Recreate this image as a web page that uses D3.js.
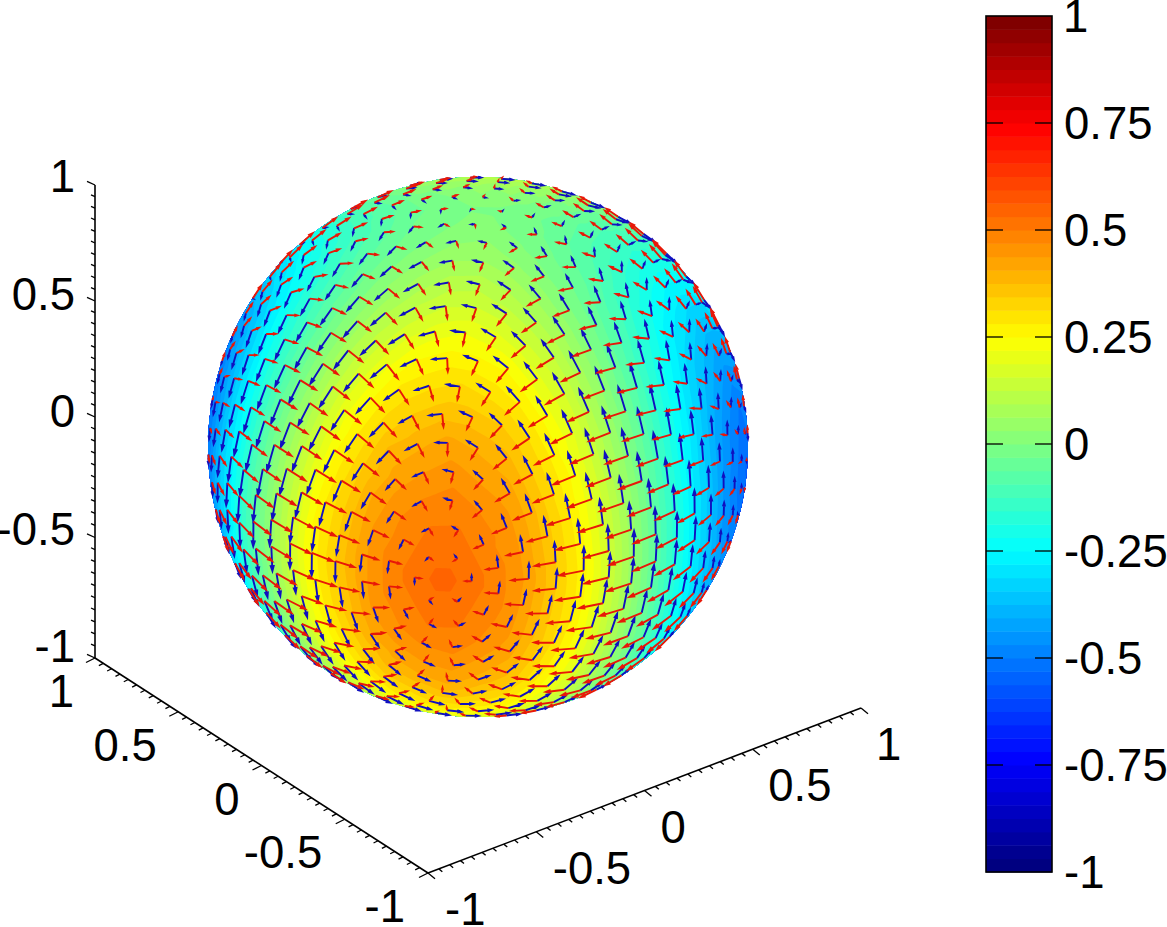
<!DOCTYPE html>
<html><head><meta charset="utf-8">
<style>html,body{margin:0;background:#fff}svg{display:block}text{font-family:"Liberation Sans",Arial,sans-serif;font-size:45.5px;fill:#000}</style>
<script src="https://cdn.jsdelivr.net/npm/d3@7"></script></head><body>
<svg id="c" width="1167" height="927"></svg>
<script>
// ---- values ----
const axisTicks = [-1, -0.5, 0, 0.5, 1];
const axisTickLabels = ["-1", "-0.5", "0", "0.5", "1"];
const colorbarTicks = [1, 0.75, 0.5, 0.25, 0, -0.25, -0.5, -0.75, -1];
const colorbarTickLabels = ["1", "0.75", "0.5", "0.25", "0", "-0.25", "-0.5", "-0.75", "-1"];
const jetStops = [-1, -0.75, -0.25, 0.25, 0.75, 1];
const jetColors = ["#000080", "#0000ff", "#00ffff", "#ffff00", "#ff0000", "#800000"];
const colorLevels = 64;
// directions, on the unit sphere as seen on screen (right, up, out), of the surface's marked points
const peakPoint = [-0.13, -0.493, 0.86];    // the orange maximum
const saddlePoint = [0.007, 0.826, 0.564];  // where arrows vanish near the top
// surface value on a sphere table: rows = angle from saddlePoint (every 15 deg, 0..180),
// columns = angle round it, starting from peakPoint (every 15 deg, 0..345)
const fieldRowStep = 15, fieldColStep = 15;
const r00 = [0,0,0,0,0,0,0,0,0,0,0,0,0,0,0,0,0,0,0,0,0,0,0,0];
const r15 = [.060,.045,.022,0,-.018,-.032,-.037,-.032,-.018,0,.018,.032,.037,.032,.018,0,-.018,-.032,-.037,-.032,-.018,0,.022,.045];
const r30 = [.175,.145,.078,0,-.068,-.118,-.137,-.118,-.068,0,.068,.118,.137,.118,.068,0,-.068,-.118,-.137,-.118,-.068,0,.078,.145];
const r45 = [.305,.262,.148,0,-.137,-.236,-.273,-.236,-.137,0,.137,.236,.273,.236,.137,0,-.137,-.236,-.273,-.236,-.137,0,.148,.262];
const r60 = [.425,.368,.210,0,-.205,-.355,-.410,-.355,-.205,0,.205,.355,.410,.355,.205,0,-.205,-.355,-.410,-.355,-.205,0,.210,.368];
const r75 = [.509,.441,.255,0,-.255,-.441,-.509,-.441,-.255,0,.255,.441,.509,.441,.255,0,-.255,-.441,-.509,-.441,-.255,0,.255,.441];
const r90 = [.546,.473,.273,0,-.273,-.473,-.546,-.473,-.273,0,.273,.473,.546,.473,.273,0,-.273,-.473,-.546,-.473,-.273,0,.273,.473];
const fieldRows = [r00,r15,r30,r45,r60,r75,r90,r75,r60,r45,r30,r15,r00];
const ringStepDeg = 6.1;    // arrows sit on rings about the peak, this far apart
const arrowSpacingDeg = 6.6; // and this far apart along each ring
const arrowScale = 0.102;   // arrow length per unit of surface slope

// ---- layout ----
const svg = d3.select("#c");
const X = d3.scaleLinear().domain([-1, 1]).range([208, 748]);
const Y = d3.scaleLinear().domain([-1, 1]).range([717, 177]);
const bar = {x0: 986, x1: 1052, y: d3.scaleLinear().domain([-1, 1]).range([872, 16])};
const jet = d3.scaleLinear().domain(jetStops).range(jetColors).clamp(true);
const quant = d3.scaleQuantize().domain([-1, 1]).range(d3.range(colorLevels).map(i => jet(-1 + i * 2 / (colorLevels - 1))));

// ---- vectors ----
const dot = (a, b) => a[0]*b[0] + a[1]*b[1] + a[2]*b[2];
const add = (a, b, s = 1) => [a[0]+s*b[0], a[1]+s*b[1], a[2]+s*b[2]];
const mul = (a, s) => [a[0]*s, a[1]*s, a[2]*s];
const norm = a => mul(a, 1 / Math.hypot(...a));
const cross = (a, b) => [a[1]*b[2]-a[2]*b[1], a[2]*b[0]-a[0]*b[2], a[0]*b[1]-a[1]*b[0]];
const rad = Math.PI / 180;

const M = norm(peakPoint);
const S = norm(add(saddlePoint, M, -dot(saddlePoint, M)));
const P = cross(S, M);

function sample(p) {
  const theta = Math.acos(Math.max(-1, Math.min(1, dot(p, S)))) / rad;
  const phi = (Math.atan2(dot(p, P), dot(p, M)) / rad + 360) % 360;
  const ti = Math.min(Math.floor(theta / fieldRowStep), fieldRows.length - 2), tf = theta / fieldRowStep - ti;
  const pj = Math.floor(phi / fieldColStep) % 24, pf = phi / fieldColStep - Math.floor(phi / fieldColStep), pk = (pj + 1) % 24;
  const a = fieldRows[ti][pj] * (1 - pf) + fieldRows[ti][pk] * pf;
  const b = fieldRows[ti + 1][pj] * (1 - pf) + fieldRows[ti + 1][pk] * pf;
  return a * (1 - tf) + b * tf;
}
function slope(p) {  // central difference across the table
  const e1 = norm(Math.abs(p[0]) < 0.8 ? add([1,0,0], p, -p[0]) : add([0,1,0], p, -p[1]));
  const e2 = cross(p, e1);
  const eps = 15 * rad, c = Math.cos(eps), s = Math.sin(eps), d = Math.sin(2 * eps);
  const g = e => (sample(add(mul(p, c), e, s)) - sample(add(mul(p, c), e, -s))) / d;
  return add(mul(e1, g(e1)), e2, g(e2));
}

// ---- nodes on rings about the peak ----
const hTan = norm(add([1,0,0], M, -M[0]));
const gTan = cross(M, hTan);
const nodes = [{p: M}];
d3.range(1, Math.floor(180 / ringStepDeg)).forEach(k => {
  const a = k * ringStepDeg * rad;
  const count = Math.max(6, Math.round(2 * Math.PI * Math.sin(a) / (arrowSpacingDeg * rad)));
  const phase = k % 2 ? 0 : Math.PI / count;
  d3.range(count).forEach(j => {
    const w = phase + j * 2 * Math.PI / count;
    nodes.push({p: add(add(mul(M, Math.cos(a)), hTan, Math.sin(a) * Math.cos(w)), gTan, Math.sin(a) * Math.sin(w))});
  });
});
nodes.forEach(n => { n.v = sample(n.p); n.sx = X(n.p[0]); n.sy = Y(n.p[1]); });
const visible = nodes.filter(n => n.p[2] > 0);

// ---- surface: contour bands over a Delaunay mesh of the visible nodes ----
const step = 2, gx0 = 204, gy0 = 173, gw = 274, gh = 274;
const grid = new Float64Array(gw * gh);
for (let j = 0; j < gh; j++) for (let i = 0; i < gw; i++) {
  let x = X.invert(gx0 + i * step), y = Y.invert(gy0 + j * step), r = Math.hypot(x, y);
  if (r > 0.999) { x *= 0.999 / r; y *= 0.999 / r; r = 0.999; }
  grid[j * gw + i] = sample([x, y, Math.sqrt(1 - r * r)]);
}
const del = d3.Delaunay.from(visible, d => d.sx, d => d.sy);
for (let q = 0; q < del.triangles.length; q += 3) {
  const a = visible[del.triangles[q]], b = visible[del.triangles[q+1]], c = visible[del.triangles[q+2]];
  const det = (b.sy - c.sy) * (a.sx - c.sx) + (c.sx - b.sx) * (a.sy - c.sy);
  if (Math.abs(det) < 1e-6) continue;
  const i0 = Math.max(0, Math.floor((d3.min([a.sx,b.sx,c.sx]) - gx0) / step)), i1 = Math.min(gw-1, Math.ceil((d3.max([a.sx,b.sx,c.sx]) - gx0) / step));
  const j0 = Math.max(0, Math.floor((d3.min([a.sy,b.sy,c.sy]) - gy0) / step)), j1 = Math.min(gh-1, Math.ceil((d3.max([a.sy,b.sy,c.sy]) - gy0) / step));
  for (let j = j0; j <= j1; j++) for (let i = i0; i <= i1; i++) {
    const x = gx0 + i * step, y = gy0 + j * step;
    const l1 = ((b.sy - c.sy) * (x - c.sx) + (c.sx - b.sx) * (y - c.sy)) / det;
    const l2 = ((c.sy - a.sy) * (x - c.sx) + (a.sx - c.sx) * (y - c.sy)) / det;
    const l3 = 1 - l1 - l2;
    if (l1 >= -1e-9 && l2 >= -1e-9 && l3 >= -1e-9) grid[j * gw + i] = l1 * a.v + l2 * b.v + l3 * c.v;
  }
}
svg.append("defs").append("clipPath").attr("id", "disc").append("circle")
  .attr("cx", X(0)).attr("cy", Y(0)).attr("r", X(1) - X(0));
const levelEdges = d3.range(colorLevels).map(i => -1 + i * 2 / colorLevels);
const contours = d3.contours().size([gw, gh]).smooth(true).thresholds(levelEdges)(Array.from(grid));
const gp = d3.geoPath(d3.geoIdentity().scale(step).translate([gx0 - step / 2, gy0 - step / 2]));
svg.append("g").attr("clip-path", "url(#disc)").selectAll("path").data(contours.filter(c => c.coordinates.length))
  .join("path").attr("d", gp).attr("fill", d => quant(d.value + 1 / colorLevels));

// ---- arrows ----
function arrow(n, vec) {
  const tip = add(n.p, vec, arrowScale);
  const x0 = n.sx, y0 = n.sy, x1 = X(tip[0]), y1 = Y(tip[1]);
  const dx = x1 - x0, dy = y1 - y0;
  const hb = 0.2, hw = 0.06;
  return `M${x0},${y0}L${x1},${y1}M${x1},${y1}L${x1 - hb*dx - hw*dy},${y1 - hb*dy + hw*dx}L${x1 - hb*dx + hw*dy},${y1 - hb*dy - hw*dx}Z`;
}
visible.forEach(n => { n.red = slope(n.p); n.blue = cross(n.red, n.p); });
svg.append("g").attr("fill", "#1010c0").attr("stroke", "#1010c0").attr("stroke-width", 1.9)
  .selectAll("path").data(visible).join("path").attr("d", d => arrow(d, d.blue));
svg.append("g").attr("fill", "#e81808").attr("stroke", "#e81808").attr("stroke-width", 1.9)
  .selectAll("path").data(visible).join("path").attr("d", d => arrow(d, d.red));

// ---- 3-D box axes ----
const minorTicks = d3.range(-20, 21).map(i => i / 20);
const axes = [
  {x: d3.scaleLinear().domain([-1, 1]).range([95, 95]), y: d3.scaleLinear().domain([-1, 0, 1]).range([658, 417, 185]), tick: [-8, -3.6],
   labX: d3.scaleLinear().domain([-1, 1]).range([75, 75]), labY: d3.scaleLinear().domain([-1, 1]).range([646, 176]), anchor: "end"},
  {x: d3.scaleLinear().domain([-1, 1]).range([428, 95]), y: d3.scaleLinear().domain([-1, 1]).range([873, 658]), tick: [-9, 4.5],
   labX: d3.scaleLinear().domain([-1, 1]).range([405, 74]), labY: d3.scaleLinear().domain([-1, 1]).range([906, 691]), anchor: "end"},
  {x: d3.scaleLinear().domain([-1, 1]).range([428, 861]), y: d3.scaleLinear().domain([-1, 1]).range([873, 708]), tick: [7, 5.8],
   labX: d3.scaleLinear().domain([-1, 1]).range([445, 876]), labY: d3.scaleLinear().domain([-1, 1]).range([909, 744]), anchor: "start"}
];
const ax = svg.append("g");
axes.forEach(a => {
  ax.append("line").attr("x1", a.x(-1)).attr("y1", a.y(-1)).attr("x2", a.x(1)).attr("y2", a.y(1)).attr("stroke", "#000").attr("stroke-width", 1.6);
  ax.append("g").selectAll("line").data(minorTicks).join("line")
    .attr("x1", d => a.x(d)).attr("y1", d => a.y(d))
    .attr("x2", d => a.x(d) + a.tick[0] * (axisTicks.includes(d) ? 1 : 0.5))
    .attr("y2", d => a.y(d) + a.tick[1] * (axisTicks.includes(d) ? 1 : 0.5))
    .attr("stroke", "#000").attr("stroke-width", 1.3);
  ax.append("g").selectAll("text").data(axisTicks).join("text")
    .attr("x", d => a.labX(d)).attr("y", d => a.labY(d) + 16).attr("text-anchor", a.anchor)
    .text((d, i) => axisTickLabels[i]);
});

// ---- colorbar ----
const cb = svg.append("g");
cb.append("g").selectAll("rect").data(quant.range()).join("rect")
  .attr("x", bar.x0).attr("width", bar.x1 - bar.x0)
  .attr("y", (d, i) => bar.y(-1 + (i + 1) * 2 / colorLevels))
  .attr("height", (bar.y(-1) - bar.y(1)) / colorLevels + 0.5)
  .attr("fill", d => d);
cb.append("rect").attr("x", bar.x0).attr("y", bar.y(1)).attr("width", bar.x1 - bar.x0).attr("height", bar.y(-1) - bar.y(1))
  .attr("fill", "none").attr("stroke", "#000").attr("stroke-width", 1.6);
const innerTicks = colorbarTicks.slice(1, -1);
[[bar.x0, 17], [bar.x1, -17]].forEach(([x, len]) => {
  cb.append("g").selectAll("line").data(innerTicks).join("line")
    .attr("x1", x).attr("x2", x + len).attr("y1", d => bar.y(d)).attr("y2", d => bar.y(d))
    .attr("stroke", "#000").attr("stroke-width", 1.3);
});
cb.append("g").selectAll("text").data(colorbarTicks).join("text")
  .attr("x", d => d === 1 ? 1063 : 1064).attr("y", d => bar.y(d) + 16)
  .text((d, i) => colorbarTickLabels[i]);
</script></body></html>
